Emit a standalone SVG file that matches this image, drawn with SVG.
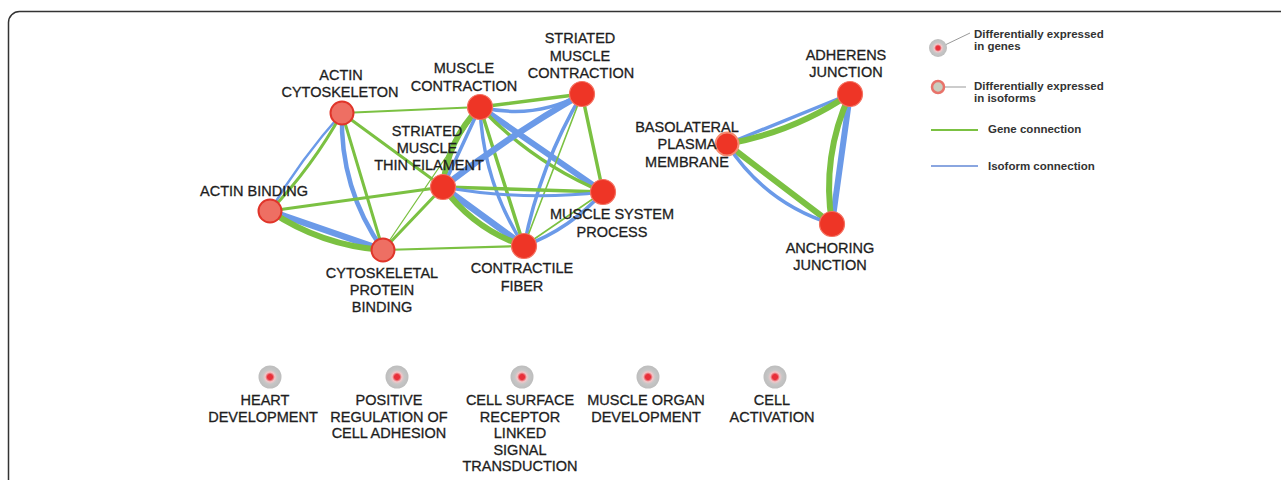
<svg xmlns="http://www.w3.org/2000/svg" width="1281" height="480" viewBox="0 0 1281 480">
<style>
.g{stroke:#7BC142;fill:none;stroke-linecap:round}
.b{stroke:#6B9AE8;fill:none;stroke-linecap:round}
.red{fill:#EE3526;stroke:#F4705F;stroke-width:1.2}
.iso{fill:#EE6F63;stroke:#E0352A;stroke-width:2}
.lbl{font-family:"Liberation Sans",Arial,sans-serif;font-size:14.5px;fill:#1e1e1e;stroke:#1e1e1e;stroke-width:0.3;text-anchor:middle}
.leg{font-family:"Liberation Sans",Arial,sans-serif;font-size:11.5px;font-weight:bold;fill:#333}
</style>
<defs>
<radialGradient id="dg">
<stop offset="0" stop-color="#E8303A"/>
<stop offset="0.22" stop-color="#E8303A"/>
<stop offset="0.42" stop-color="#F2C6C8"/>
<stop offset="0.62" stop-color="#C6C6C6"/>
<stop offset="1" stop-color="#BDBDBD"/>
</radialGradient>
</defs>
<rect x="8.5" y="11.5" width="1400" height="600" rx="11" fill="#fff" stroke="#333" stroke-width="1.5"/>

<g id="connectors">
<path class="g" stroke-width="1.8" d="M342,113 L480,107"/>
<path class="b" stroke-width="2.5" d="M342,113 Q301.2,158.4 270,211"/>
<path class="g" stroke-width="3" d="M342,113 Q312.4,166.7 270,211"/>
<path class="b" stroke-width="4.5" d="M342,113 Q339.5,188.4 383,250"/>
<path class="g" stroke-width="3" d="M342,113 L383,250"/>
<path class="g" stroke-width="3" d="M342,113 L443,187"/>
<path class="g" stroke-width="3" d="M270,211 L443,187"/>
<path class="b" stroke-width="6.5" d="M270,211 L383,250"/>
<path class="g" stroke-width="6" d="M270,211 Q321.3,245.6 383,250"/>
<path class="g" stroke-width="3" d="M383,250 L443,187"/>
<path class="g" stroke-width="1.3" d="M383,250 L480,107"/>
<path class="g" stroke-width="2.2" d="M383,250 L524,246"/>
<path class="g" stroke-width="3.5" d="M480,107 L582,94"/>
<path class="b" stroke-width="3.5" d="M480,107 Q533.5,120.3 582,94"/>
<path class="g" stroke-width="6" d="M480,107 Q447,140.3 443,187"/>
<path class="b" stroke-width="3.5" d="M480,107 L443,187"/>
<path class="b" stroke-width="6" d="M480,107 L603,192"/>
<path class="g" stroke-width="3.5" d="M480,107 Q532.4,162.7 603,192"/>
<path class="b" stroke-width="3.5" d="M480,107 Q482.9,182.5 524,246"/>
<path class="g" stroke-width="3.5" d="M480,107 L524,246"/>
<path class="b" stroke-width="6.5" d="M582,94 Q509.2,135.5 443,187"/>
<path class="g" stroke-width="3.5" d="M582,94 L603,192"/>
<path class="b" stroke-width="3.5" d="M582,94 Q539.9,165 524,246"/>
<path class="g" stroke-width="1.6" d="M582,94 L524,246"/>
<path class="g" stroke-width="3.5" d="M443,187 L603,192"/>
<path class="b" stroke-width="3" d="M443,187 Q522.6,201.5 603,192"/>
<path class="b" stroke-width="6.5" d="M443,187 L524,246"/>
<path class="g" stroke-width="6" d="M443,187 Q474.1,229.4 524,246"/>
<path class="g" stroke-width="1.6" d="M603,192 L524,246"/>
<path class="b" stroke-width="3.5" d="M603,192 Q570.3,228.9 524,246"/>
<path class="b" stroke-width="3.5" d="M727,144 L850,94"/>
<path class="g" stroke-width="6" d="M727,144 Q793.8,132 850,94"/>
<path class="g" stroke-width="6" d="M727,144 L832,224"/>
<path class="b" stroke-width="3.5" d="M727,144 Q765,203.1 832,224"/>
<path class="b" stroke-width="6" d="M850,94 L832,224"/>
<path class="g" stroke-width="6" d="M850,94 Q821.2,156.3 832,224"/>
</g>

<g id="n-actin-cytoskeleton"><circle class="iso" cx="342" cy="113" r="11.5"/><text class="lbl"><tspan x="341" y="80">ACTIN</tspan><tspan x="340" y="97">CYTOSKELETON</tspan></text></g>
<g id="n-actin-binding"><circle class="iso" cx="270" cy="211" r="11.5"/><text class="lbl" x="254" y="196">ACTIN BINDING</text></g>
<g id="n-cytoskeletal-protein-binding"><circle class="iso" cx="383" cy="250" r="11.5"/><text class="lbl"><tspan x="382" y="278">CYTOSKELETAL</tspan><tspan x="382" y="295">PROTEIN</tspan><tspan x="382" y="312">BINDING</tspan></text></g>
<g id="n-striated-muscle-thin-filament"><circle class="red" cx="443" cy="187" r="12.5"/><text class="lbl"><tspan x="427" y="136">STRIATED</tspan><tspan x="427" y="153">MUSCLE</tspan><tspan x="429" y="170">THIN FILAMENT</tspan></text></g>
<g id="n-muscle-contraction"><circle class="red" cx="480" cy="107" r="12.5"/><text class="lbl"><tspan x="464" y="73">MUSCLE</tspan><tspan x="464" y="90.5">CONTRACTION</tspan></text></g>
<g id="n-striated-muscle-contraction"><circle class="red" cx="582" cy="94" r="12.5"/><text class="lbl"><tspan x="580" y="43">STRIATED</tspan><tspan x="580" y="60.5">MUSCLE</tspan><tspan x="581" y="78">CONTRACTION</tspan></text></g>
<g id="n-muscle-system-process"><circle class="red" cx="603" cy="192" r="12.5"/><text class="lbl"><tspan x="612" y="219">MUSCLE SYSTEM</tspan><tspan x="612" y="236.5">PROCESS</tspan></text></g>
<g id="n-contractile-fiber"><circle class="red" cx="524" cy="246" r="12.5"/><text class="lbl"><tspan x="522" y="273">CONTRACTILE</tspan><tspan x="522" y="290.5">FIBER</tspan></text></g>
<g id="n-basolateral-plasma-membrane"><circle cx="727" cy="144" r="11.5" fill="#EE3526" stroke="#F58A70" stroke-width="2"/><text class="lbl"><tspan x="687" y="131.5">BASOLATERAL</tspan><tspan x="687" y="149">PLASMA</tspan><tspan x="687" y="166.5">MEMBRANE</tspan></text></g>
<g id="n-adherens-junction"><circle class="red" cx="850" cy="94" r="12.5"/><text class="lbl"><tspan x="846" y="60">ADHERENS</tspan><tspan x="846" y="77">JUNCTION</tspan></text></g>
<g id="n-anchoring-junction"><circle class="red" cx="832" cy="224" r="12.5"/><text class="lbl"><tspan x="830" y="253">ANCHORING</tspan><tspan x="830" y="270">JUNCTION</tspan></text></g>

<g id="n-heart-development"><circle cx="270" cy="377" r="11.5" fill="url(#dg)"/><text class="lbl"><tspan x="265" y="405">HEART</tspan><tspan x="263" y="421.5">DEVELOPMENT</tspan></text></g>
<g id="n-positive-regulation"><circle cx="397" cy="377" r="11.5" fill="url(#dg)"/><text class="lbl"><tspan x="389" y="405">POSITIVE</tspan><tspan x="389" y="421.5">REGULATION OF</tspan><tspan x="389" y="438">CELL ADHESION</tspan></text></g>
<g id="n-cell-surface-receptor"><circle cx="522" cy="377" r="11.5" fill="url(#dg)"/><text class="lbl"><tspan x="520" y="405">CELL SURFACE</tspan><tspan x="520" y="421.5">RECEPTOR</tspan><tspan x="520" y="438">LINKED</tspan><tspan x="520" y="454.5">SIGNAL</tspan><tspan x="520" y="471">TRANSDUCTION</tspan></text></g>
<g id="n-muscle-organ-development"><circle cx="648" cy="377" r="11.5" fill="url(#dg)"/><text class="lbl"><tspan x="646" y="405">MUSCLE ORGAN</tspan><tspan x="646" y="421.5">DEVELOPMENT</tspan></text></g>
<g id="n-cell-activation"><circle cx="775" cy="377" r="11.5" fill="url(#dg)"/><text class="lbl"><tspan x="772" y="405">CELL</tspan><tspan x="772" y="421.5">ACTIVATION</tspan></text></g>

<g id="legend">
<line x1="945" y1="45" x2="970" y2="33" stroke="#999" stroke-width="1"/>
<circle cx="938" cy="48" r="9" fill="url(#dg)"/>
<text class="leg"><tspan x="974" y="38">Differentially expressed</tspan><tspan x="974" y="49.5">in genes</tspan></text>
<line x1="945" y1="87" x2="966" y2="87" stroke="#aaa" stroke-width="1.2"/>
<circle cx="938" cy="87" r="6" fill="#C9CDBE" stroke="#E8736A" stroke-width="2.5"/>
<text class="leg"><tspan x="974" y="90">Differentially expressed</tspan><tspan x="974" y="102">in isoforms</tspan></text>
<line x1="931" y1="130" x2="978" y2="130" stroke="#7BC142" stroke-width="2"/>
<text class="leg" x="988" y="133">Gene connection</text>
<line x1="931" y1="166" x2="978" y2="166" stroke="#8AA6E0" stroke-width="2"/>
<text class="leg" x="988" y="169.5">Isoform connection</text>
</g>
</svg>
